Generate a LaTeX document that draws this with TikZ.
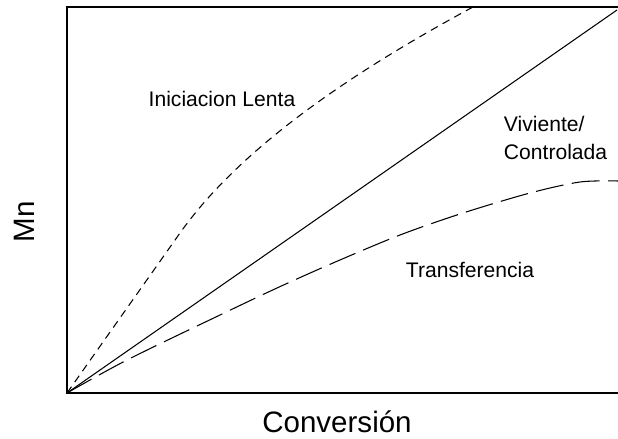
\documentclass[tikz,border=0pt]{standalone}
\usepackage{fontspec}
\setmainfont{Liberation Sans}
\begin{document}
\begin{tikzpicture}[
  curvelbl/.style={font=\fontsize{15}{20}\selectfont},
  axislbl/.style={font=\fontsize{21}{24}\selectfont},
  shortdash/.style={line width=0.75pt, dash pattern=on 5.5pt off 4pt},
  longdash/.style={line width=0.75pt, dash pattern=on 20pt off 6pt}]
\useasboundingbox (-1.675,-1.15) rectangle (13.775,9.825);

% frame
\draw[line width=1.1pt] (13.775,9.65) -- (0,9.65) -- (0,0) -- (13.775,0);
\node[axislbl] (xlbl) at (6.75,-0.725) {Conversión};
\node[axislbl, rotate=90] (ylbl) at (-1.075,4.275) {Mn};

% viviente / controlada
\draw[line width=0.75pt] (0,0) -- (13.75,9.575);
\node[curvelbl, anchor=west, align=left] (viv) at (10.8,6.375) {Viviente/\\Controlada};

% iniciacion lenta
\draw[shortdash] (0,0) -- (2.825,4.0) .. controls (4.3,6.08) and (7.0,7.95) .. (10.15,9.65);
\node[curvelbl] (ini) at (3.875,7.35) {Iniciacion Lenta};

% transferencia
\draw[longdash] plot[smooth] coordinates {(0,0) (1.5,0.825) (3.825,1.95) (5.25,2.625)
  (6.65,3.25) (8.325,3.95) (9.9,4.5) (11.575,5.0) (12.825,5.275) (13.775,5.3)};
\node[curvelbl] (trf) at (10.075,3.075) {Transferencia};
\end{tikzpicture}
\end{document}
